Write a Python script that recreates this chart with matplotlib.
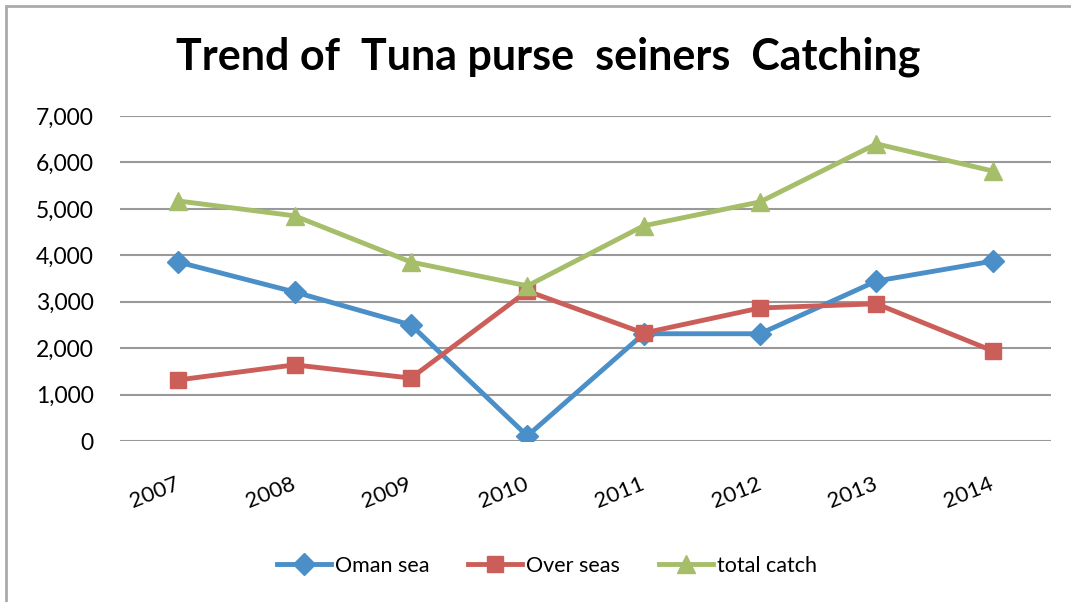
import numpy as np
import matplotlib.pyplot as plt
from matplotlib.patches import Rectangle
from matplotlib.ticker import FuncFormatter

years = ['2007', '2008', '2009', '2010', '2011', '2012', '2013', '2014']
oman_sea = [3855, 3210, 2500, 110, 2310, 2310, 3445, 3875]
over_seas = [1315, 1640, 1355, 3230, 2325, 2865, 2955, 1940]
total_catch = [5170, 4850, 3855, 3340, 4635, 5150, 6400, 5815]

W, H = 1071, 602
fig = plt.figure(figsize=(W/100, H/100), dpi=100)
ax = fig.add_axes([120/W, 1-441/H, (1051-120)/W, (441-116)/H])

x = np.arange(len(years))
ax.plot(x, oman_sea, color='#4A8FC7', lw=3.5, marker='D', ms=11, label='Oman sea')
ax.plot(x, over_seas, color='#CC5E59', lw=3.5, marker='s', ms=12, label='Over seas')
ax.plot(x, total_catch, color='#A6BE6A', lw=3.5, marker='^', ms=13, label='total catch')

ax.set_xlim(-0.5, len(years)-0.5)
ax.set_ylim(0, 7000)
ax.set_yticks(np.arange(0, 7001, 1000))
ax.yaxis.set_major_formatter(FuncFormatter(lambda v, p: f'{int(v):,}'))
ax.set_xticks(x)
ax.set_xticklabels(years, rotation=22, ha='right', va='center', rotation_mode='anchor',
                   fontsize=16, family='Lato')
ax.tick_params(axis='y', labelsize=16.5, length=0, pad=19)
ax.tick_params(axis='x', length=0, pad=30)
for t in ax.get_yticklabels():
    t.set_family('Lato')
ax.grid(axis='y', color='#999999', lw=1.5)
ax.set_axisbelow(True)
for s in ax.spines.values():
    s.set_visible(False)

fig.text(548/W, 1-57/H, 'Trend of  Tuna purse  seiners  Catching', ha='center', va='center',
         fontsize=31, fontweight='bold', family='Lato')

leg = fig.legend(loc='center', bbox_to_anchor=(547/W, 1-566/H), ncol=3, frameon=False,
                 prop={'family': 'Lato', 'size': 15.5}, handlelength=2.5,
                 handletextpad=0.2, columnspacing=1.8)

fig.patches.append(Rectangle((6/W, -0.1), 1.2, 1-6/H+0.1, transform=fig.transFigure,
                             fill=False, edgecolor='#AAAAAA', lw=2))

fig.savefig('out.png', dpi=100)
